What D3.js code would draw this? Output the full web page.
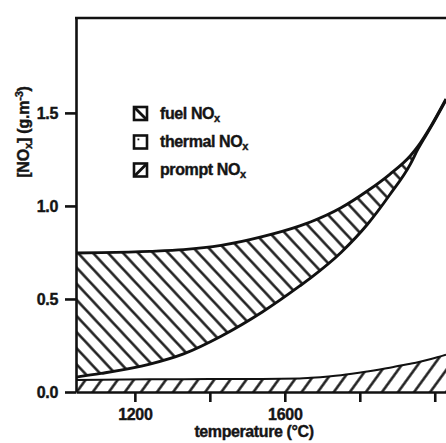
<!DOCTYPE html>
<html>
<head>
<meta charset="utf-8">
<script src="https://cdn.jsdelivr.net/npm/d3@7"></script>
<style>
  body { margin: 0; background: #fff; }
  svg { display: block; }
  text { font-family: "Liberation Sans", Arial, sans-serif; font-weight: bold; fill: #151515; }
</style>
</head>
<body>
<script>
// temperature (°C)
var temps   = [1043, 1110, 1240, 1330, 1430, 1540, 1640, 1670, 1750, 1820, 1880, 1935, 1955, 1990, 2030]
// NOx contributions (g.m-3), stacked bottom to top
var prompt  = [0.065, 0.066, 0.068, 0.069, 0.07, 0.07, 0.072, 0.076, 0.09, 0.11, 0.13, 0.152, 0.16, 0.177, 0.2]
var thermal = [0.015, 0.034, 0.082, 0.136, 0.23, 0.36, 0.498, 0.539, 0.66, 0.79, 0.93, 1.073, 1.145, 1.248, 1.37]
var fuel    = [0.667, 0.649, 0.606, 0.56, 0.488, 0.405, 0.323, 0.30, 0.24, 0.18, 0.11, 0.045, 0.015, 0.005, 0.005]

var yTicks = [0, 0.5, 1.0, 1.5]
var xTicks = [1200, 1400, 1600, 1800, 2000]
var xLabels = [1200, 1600]

var legendItems = ["fuel", "thermal", "prompt"]

var width = 446, height = 443

var rows = temps.map(function(t, i) {
  return {t: t, prompt: prompt[i], thermal: thermal[i], fuel: fuel[i]}
})
var stacked = d3.stack().keys(["prompt", "thermal", "fuel"])(rows)

var x = d3.scaleLinear().domain([1043, 2030]).range([76, 446])
var y = d3.scaleLinear().domain([0, 2.01]).range([392, 18])

var svg = d3.select("body").append("svg")
  .attr("width", width)
  .attr("height", height)

var defs = svg.append("defs")

defs.append("clipPath").attr("id", "plotClip")
  .append("rect").attr("x", 76).attr("y", 18).attr("width", 400).attr("height", 374)

var fuelPat = defs.append("pattern")
  .attr("id", "fuelHatch")
  .attr("patternUnits", "userSpaceOnUse")
  .attr("width", 11).attr("height", 11)
  .attr("patternTransform", "rotate(-43)")
fuelPat.append("line")
  .attr("x1", 5.5).attr("y1", -1).attr("x2", 5.5).attr("y2", 12)
  .attr("stroke", "#111").attr("stroke-width", 2.4)

var promptPat = defs.append("pattern")
  .attr("id", "promptHatch")
  .attr("patternUnits", "userSpaceOnUse")
  .attr("width", 13).attr("height", 13)
  .attr("patternTransform", "rotate(36)")
promptPat.append("line")
  .attr("x1", 6.5).attr("y1", -1).attr("x2", 6.5).attr("y2", 14)
  .attr("stroke", "#111").attr("stroke-width", 2.4)

var fills = {prompt: "url(#promptHatch)", thermal: "none", fuel: "url(#fuelHatch)"}

var area = d3.area()
  .curve(d3.curveMonotoneX)
  .x(function(d) { return x(d.data.t) })
  .y0(function(d) { return y(d[0]) })
  .y1(function(d) { return y(d[1]) })

var line = d3.line()
  .curve(d3.curveMonotoneX)
  .x(function(d) { return x(d.data.t) })
  .y(function(d) { return y(d[1]) })

var plot = svg.append("g").attr("clip-path", "url(#plotClip)")

plot.selectAll("path.area")
  .data(stacked)
  .enter()
  .append("path")
  .attr("class", "area")
  .attr("d", area)
  .attr("fill", function(d) { return fills[d.key] })

plot.selectAll("path.edge")
  .data(stacked)
  .enter()
  .append("path")
  .attr("class", "edge")
  .attr("d", line)
  .attr("fill", "none")
  .attr("stroke", "#111")
  .attr("stroke-width", function(d) { return d.key == "prompt" ? 2 : 2.9 })

// frame top line
svg.append("line")
  .attr("x1", 75).attr("x2", 446)
  .attr("y1", 18).attr("y2", 18)
  .attr("stroke", "#111").attr("stroke-width", 2.5)

var yAxis = svg.append("g")
  .attr("transform", "translate(76,0)")
  .call(d3.axisLeft(y).tickValues(yTicks).tickSize(11).tickSizeOuter(0).tickPadding(7)
        .tickFormat(d3.format(".1f")))

var xAxis = svg.append("g")
  .attr("transform", "translate(0,392)")
  .call(d3.axisBottom(x).tickValues(xTicks).tickSize(10).tickSizeOuter(0).tickPadding(7)
        .tickFormat(function(d) { return xLabels.indexOf(d) >= 0 ? d : "" }))

svg.selectAll(".domain, .tick line")
  .attr("stroke", "#111")
  .attr("stroke-width", 2.6)
svg.selectAll(".tick text")
  .attr("font-size", 16)
  .attr("font-family", "Liberation Sans, Arial, sans-serif")
  .attr("font-weight", "bold")
  .attr("fill", "#151515")
  .attr("stroke", "#151515")
  .attr("stroke-width", 0.4)
  .attr("letter-spacing", -0.3)

// axis titles
svg.append("text")
  .attr("x", 254).attr("y", 437)
  .attr("text-anchor", "middle")
  .attr("font-size", 16)
  .attr("letter-spacing", -0.4)
  .attr("stroke", "#151515").attr("stroke-width", 0.4)
  .text("temperature (°C)")

var yTitle = svg.append("text")
  .attr("transform", "translate(29,132) rotate(-90)")
  .attr("text-anchor", "middle")
  .attr("font-size", 16)
  .attr("letter-spacing", -0.2)
  .attr("stroke", "#151515").attr("stroke-width", 0.4)
yTitle.append("tspan").text("[NO")
yTitle.append("tspan").attr("font-size", 11).attr("dy", 3).text("x")
yTitle.append("tspan").attr("dy", -3).text("] (g.m")
yTitle.append("tspan").attr("font-size", 11).attr("dy", -6).text("-3")
yTitle.append("tspan").attr("dy", 6).text(")")

// legend
var legend = svg.append("g").attr("class", "legend")
var rowY = [113.5, 142, 170]

legend.selectAll("rect")
  .data(legendItems)
  .enter()
  .append("rect")
  .attr("x", 134)
  .attr("y", function(d, i) { return rowY[i] - 6.5 })
  .attr("width", 13)
  .attr("height", 13)
  .attr("fill", "#fff")
  .attr("stroke", "#111")
  .attr("stroke-width", 2.6)

legend.append("line")
  .attr("x1", 135).attr("y1", rowY[0] - 5.5).attr("x2", 146).attr("y2", rowY[0] + 5.5)
  .attr("stroke", "#111").attr("stroke-width", 2.8)
legend.append("line")
  .attr("x1", 135).attr("y1", rowY[2] + 5.5).attr("x2", 146).attr("y2", rowY[2] - 5.5)
  .attr("stroke", "#111").attr("stroke-width", 2.8)
legend.append("rect")
  .attr("x", 137.5).attr("y", rowY[1] - 3.5).attr("width", 1.8).attr("height", 1.8)
  .attr("fill", "#111")

legend.selectAll("text")
  .data(legendItems)
  .enter()
  .append("text")
  .attr("x", 160)
  .attr("y", function(d, i) { return rowY[i] + 5 })
  .attr("font-size", 16)
  .attr("letter-spacing", -0.4)
  .attr("stroke", "#151515").attr("stroke-width", 0.4)
  .each(function(d) {
    var t = d3.select(this)
    t.append("tspan").text(d + " NO")
    t.append("tspan").attr("font-size", 11).attr("dy", 3).text("x")
  })
</script>
</body>
</html>
